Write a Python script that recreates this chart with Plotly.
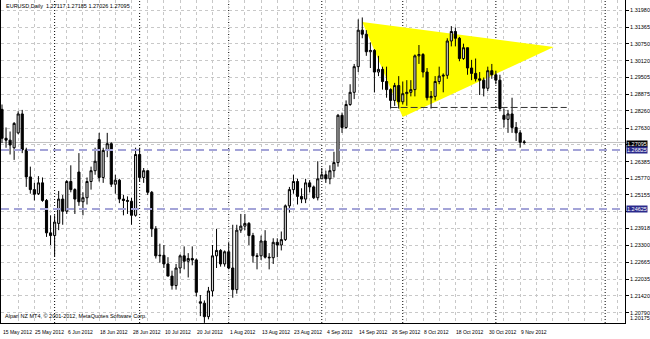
import plotly.graph_objects as go

# ---------------- data ----------------
dates = ["2012-05-15","2012-05-16","2012-05-17","2012-05-18","2012-05-21","2012-05-22","2012-05-23","2012-05-24","2012-05-25",
         "2012-05-28","2012-05-29","2012-05-30","2012-05-31","2012-06-01","2012-06-04","2012-06-05","2012-06-06","2012-06-07",
         "2012-06-08","2012-06-11","2012-06-12","2012-06-13","2012-06-14","2012-06-15","2012-06-18","2012-06-19","2012-06-20",
         "2012-06-21","2012-06-22","2012-06-25","2012-06-26","2012-06-27","2012-06-28","2012-06-29","2012-07-02","2012-07-03",
         "2012-07-04","2012-07-05","2012-07-06","2012-07-09","2012-07-10","2012-07-11","2012-07-12","2012-07-13","2012-07-16",
         "2012-07-17","2012-07-18","2012-07-19","2012-07-20","2012-07-23","2012-07-24","2012-07-25","2012-07-26","2012-07-27",
         "2012-07-30","2012-07-31","2012-08-01","2012-08-02","2012-08-03","2012-08-06","2012-08-07","2012-08-08","2012-08-09",
         "2012-08-10","2012-08-13","2012-08-14","2012-08-15","2012-08-16","2012-08-17","2012-08-20","2012-08-21","2012-08-22",
         "2012-08-23","2012-08-24","2012-08-27","2012-08-28","2012-08-29","2012-08-30","2012-08-31","2012-09-03","2012-09-04",
         "2012-09-05","2012-09-06","2012-09-07","2012-09-10","2012-09-11","2012-09-12","2012-09-13","2012-09-14","2012-09-17",
         "2012-09-18","2012-09-19","2012-09-20","2012-09-21","2012-09-24","2012-09-25","2012-09-26","2012-09-27","2012-09-28",
         "2012-10-01","2012-10-02","2012-10-03","2012-10-04","2012-10-05","2012-10-08","2012-10-09","2012-10-10","2012-10-11",
         "2012-10-12","2012-10-15","2012-10-16","2012-10-17","2012-10-18","2012-10-19","2012-10-22","2012-10-23","2012-10-24",
         "2012-10-25","2012-10-26","2012-10-29","2012-10-30","2012-10-31","2012-11-01","2012-11-02","2012-11-05","2012-11-06",
         "2012-11-07","2012-11-08","2012-11-09","2012-11-12"]

opens = [1.2832,1.2725,1.2718,1.2690,1.2745,1.2815,1.2682,1.2582,1.2535,
         1.2520,1.2560,1.2495,1.2375,1.2365,1.2410,1.2500,1.2455,1.2565,
         1.2535,1.2600,1.2490,1.2505,1.2565,1.2605,1.2720,1.2580,1.2680,
         1.2705,1.2555,1.2570,1.2500,1.2495,1.2492,1.2440,1.2665,1.2580,
         1.2605,1.2525,1.2390,1.2290,1.2292,1.2260,1.2215,1.2180,1.2245,
         1.2290,1.2270,1.2280,1.2275,1.2120,1.2115,1.2065,1.2160,1.2290,
         1.2310,1.2260,1.2305,1.2245,1.2165,1.2385,1.2400,1.2410,1.2365,
         1.2290,1.2290,1.2345,1.2285,1.2283,1.2340,1.2330,1.2350,1.2475,
         1.2535,1.2565,1.2510,1.2500,1.2560,1.2545,1.2505,1.2575,1.2590,
         1.2575,1.2605,1.2635,1.2810,1.2765,1.2850,1.2895,1.2990,1.3125,
         1.3110,1.3045,1.3050,1.2970,1.2980,1.2935,1.2905,1.2865,1.2920,
         1.2860,1.2890,1.2895,1.2905,1.3030,1.3035,1.2970,1.2875,1.2880,
         1.2935,1.2955,1.2958,1.3085,1.3120,1.3095,1.3020,1.3060,1.2985,
         1.2965,1.2945,1.2940,1.2910,1.2975,1.2960,1.2940,1.2810,1.2795,
         1.2815,1.2765,1.2745,1.27117]
highs = [1.2850,1.2765,1.2750,1.2785,1.2825,1.2830,1.2690,1.2620,1.2560,
         1.2585,1.2580,1.2500,1.2440,1.2440,1.2530,1.2515,1.2570,1.2625,
         1.2540,1.2670,1.2525,1.2580,1.2620,1.2690,1.2745,1.2690,1.2745,
         1.2710,1.2590,1.2575,1.2515,1.2510,1.2505,1.2690,1.2690,1.2615,
         1.2605,1.2530,1.2400,1.2335,1.2330,1.2285,1.2235,1.2260,1.2295,
         1.2325,1.2300,1.2325,1.2280,1.2145,1.2125,1.2175,1.2330,1.2390,
         1.2315,1.2310,1.2340,1.2405,1.2405,1.2445,1.2445,1.2415,1.2375,
         1.2300,1.2365,1.2385,1.2300,1.2355,1.2355,1.2380,1.2480,1.2545,
         1.2590,1.2575,1.2540,1.2575,1.2570,1.2550,1.2640,1.2615,1.2605,
         1.2625,1.2675,1.2815,1.2820,1.2865,1.2925,1.3000,1.3165,1.3172,
         1.3125,1.3080,1.3055,1.3030,1.2990,1.2990,1.2910,1.2930,1.2955,
         1.2935,1.2940,1.2940,1.3035,1.3070,1.3040,1.2985,1.2900,1.2955,
         1.2990,1.2965,1.3095,1.3140,1.3135,1.3100,1.3075,1.3060,1.3015,
         1.3020,1.2970,1.2950,1.2990,1.3000,1.2975,1.2960,1.2835,1.2830,
         1.2875,1.2785,1.2755,1.27185]
lows = [1.2707,1.2690,1.2665,1.2645,1.2740,1.2670,1.2545,1.2520,1.2495,
        1.2515,1.2490,1.2360,1.2330,1.2288,1.2385,1.2405,1.2445,1.2525,
        1.2445,1.2475,1.2440,1.2480,1.2535,1.2590,1.2565,1.2560,1.2655,
        1.2545,1.2520,1.2485,1.2440,1.2445,1.2405,1.2435,1.2565,1.2560,
        1.2515,1.2360,1.2280,1.2265,1.2245,1.2215,1.2165,1.2165,1.2225,
        1.2240,1.2210,1.2255,1.2140,1.2067,1.2042,1.2055,1.2140,1.2245,
        1.2250,1.2250,1.2240,1.2135,1.2150,1.2375,1.2385,1.2330,1.2265,
        1.2240,1.2275,1.2280,1.2240,1.2260,1.2285,1.2310,1.2345,1.2450,
        1.2520,1.2480,1.2485,1.2485,1.2525,1.2500,1.2495,1.2575,1.2560,
        1.2555,1.2580,1.2620,1.2745,1.2760,1.2845,1.2870,1.2970,1.3095,
        1.3030,1.2985,1.2895,1.2955,1.2905,1.2875,1.2835,1.2845,1.2835,
        1.2850,1.2845,1.2880,1.2880,1.3000,1.2950,1.2865,1.2835,1.2865,
        1.2925,1.2895,1.2945,1.3065,1.3065,1.3010,1.3015,1.2960,1.2940,
        1.2935,1.2885,1.2880,1.2900,1.2945,1.2925,1.2825,1.2765,1.2745,
        1.2745,1.2715,1.2690,1.27026]
closes = [1.2725,1.2718,1.2700,1.2780,1.2815,1.2682,1.2582,1.2535,1.2518,
          1.2560,1.2495,1.2375,1.2365,1.2415,1.2500,1.2455,1.2565,1.2535,
          1.2500,1.2490,1.2505,1.2565,1.2605,1.2640,1.2580,1.2680,1.2705,
          1.2555,1.2570,1.2500,1.2495,1.2492,1.2440,1.2665,1.2580,1.2605,
          1.2525,1.2390,1.2290,1.2292,1.2260,1.2215,1.2180,1.2245,1.2290,
          1.2270,1.2280,1.2275,1.2155,1.2115,1.2065,1.2160,1.2290,1.2310,
          1.2260,1.2305,1.2245,1.2165,1.2385,1.2400,1.2410,1.2365,1.2290,
          1.2288,1.2345,1.2285,1.2283,1.2340,1.2330,1.2350,1.2475,1.2535,
          1.2565,1.2510,1.2500,1.2560,1.2545,1.2505,1.2575,1.2590,1.2575,
          1.2605,1.2635,1.2810,1.2765,1.2850,1.2895,1.2990,1.3125,1.3110,
          1.3045,1.3050,1.2970,1.2980,1.2935,1.2905,1.2865,1.2920,1.2860,
          1.2890,1.2895,1.2905,1.3030,1.3035,1.2970,1.2875,1.2880,1.2935,
          1.2955,1.2958,1.3085,1.3120,1.3095,1.3020,1.3060,1.2985,1.2965,
          1.2945,1.2940,1.2910,1.2975,1.2960,1.2940,1.2835,1.2795,1.2815,
          1.2765,1.2745,1.2710,1.27095]

date_labels = ["15 May 2012","25 May 2012","6 Jun 2012","18 Jun 2012","28 Jun 2012","10 Jul 2012","20 Jul 2012",
               "1 Aug 2012","13 Aug 2012","23 Aug 2012","4 Sep 2012","14 Sep 2012","26 Sep 2012","8 Oct 2012",
               "18 Oct 2012","30 Oct 2012","9 Nov 2012"]
date_label_bars = [0, 8, 16, 24, 32, 40, 48, 56, 64, 72, 80, 88, 96, 104, 112, 120, 128]

price_ticks = [1.31980,1.31365,1.30750,1.30120,1.29505,1.28875,1.28260,1.27630,1.27010,1.26385,
               1.25770,1.25155,1.24535,1.23918,1.23300,1.22665,1.22035,1.21420,1.20790]
# labels under the price boxes are hidden, as in the reference
price_tick_text = ["1.31980","1.31365","1.30750","1.30120","1.29505","1.28875","1.28260","1.27630","","1.26385",
                   "1.25770","1.25155","","1.23918","1.23300","1.22665","1.22035","1.21420","1.20790"]
bottom_price_label = "1.20175"

# triangle object (bar position, price)
tri_bars = [89.0, 136.3, 99.0]
tri_prices = [1.3155, 1.3063, 1.2804]

# horizontal lines
blue_levels = [1.2682, 1.2463]
blue_level_text = ["1.26825", "1.24625"]
bid_price = 1.27095
bid_text = "1.27095"
neck_level = 1.2839
neck_bars = [96.0, 139.5]
future_separator_bar = 149.0

header_text = "EURUSD,Daily  1.27117 1.27185 1.27026 1.27095"
copyright_text = "Alpari NZ MT4, © 2001-2012, MetaQuotes Software Corp."

# ---------------- figure ----------------
bars = list(range(len(dates)))
X_MIN, X_MAX = -0.245, 153.9
Y_MIN, Y_MAX = 1.20415, 1.32366
FONT = "Liberation Sans"
FS = 5

fig = go.Figure()

shapes = []
# yellow triangle: above the grid, below the candles
tri_path = "M " + " L ".join(f"{b},{p}" for b, p in zip(tri_bars, tri_prices)) + " Z"
shapes.append(dict(type="path", path=tri_path, xref="x", yref="y", layer="between",
                   fillcolor="#ffff00", line=dict(width=0)))
# period separators (first bar of each month) + the future one
sep_bars = [i for i in range(1, len(dates)) if dates[i][5:7] != dates[i-1][5:7]] + [future_separator_bar]
for sb in sep_bars:
    shapes.append(dict(type="line", x0=sb, x1=sb, y0=0, y1=1, xref="x", yref="paper", layer="between",
                       line=dict(color="#000000", width=1, dash="1px,2px")))
# bid line
shapes.append(dict(type="line", x0=0, x1=1, y0=bid_price, y1=bid_price, xref="paper", yref="y",
                   layer="between", line=dict(color="#c0c0c0", width=1)))
# neckline
shapes.append(dict(type="line", x0=neck_bars[0], x1=neck_bars[1], y0=neck_level, y1=neck_level,
                   xref="x", yref="y", layer="above", line=dict(color="#333333", width=1, dash="7px,3px")))
# blue horizontal levels
for lv in blue_levels:
    shapes.append(dict(type="line", x0=0, x1=1, y0=lv, y1=lv, xref="paper", yref="y", layer="above",
                       line=dict(color="#a4a4d8", width=2, dash="8px,5px")))

# candles
fig.add_trace(go.Candlestick(
    x=bars, open=opens, high=highs, low=lows, close=closes,
    increasing=dict(line=dict(color="#000000", width=1), fillcolor="#d4d4d4"),
    decreasing=dict(line=dict(color="#000000", width=1), fillcolor="#000000"),
    whiskerwidth=0, hoverinfo="skip", showlegend=False))

# annotations
anns = []
for b, t in zip(date_label_bars, date_labels):
    anns.append(dict(x=b, y=0, xref="x", yref="paper", text=t, showarrow=False,
                     xanchor="left", yanchor="top", xshift=-1, yshift=-4,
                     font=dict(family=FONT, size=FS, color="#000000")))
anns.append(dict(x=0, y=1, xref="paper", yref="paper", text=header_text, showarrow=False,
                 xanchor="left", yanchor="top", xshift=3, yshift=-1,
                 font=dict(family=FONT, size=5.5, color="#000000")))
anns.append(dict(x=0, y=0, xref="paper", yref="paper", text=copyright_text, showarrow=False,
                 xanchor="left", yanchor="bottom", xshift=2, yshift=2,
                 font=dict(family=FONT, size=5.5, color="#000000")))
anns.append(dict(x=1, y=0, xref="paper", yref="paper", text=bottom_price_label, showarrow=False,
                 xanchor="left", yanchor="bottom", xshift=3, yshift=0,
                 font=dict(family=FONT, size=5.5, color="#000000")))
anns.append(dict(x=1, y=bid_price, xref="paper", yref="y", text=bid_text, showarrow=False,
                 xanchor="left", yanchor="middle", xshift=1, yshift=-2, bgcolor="#000000", borderpad=0,
                 font=dict(family=FONT, size=5.5, color="#ffffff")))
for lv, t in zip(blue_levels, blue_level_text):
    anns.append(dict(x=1, y=lv, xref="paper", yref="y", text=t, showarrow=False,
                     xanchor="left", yanchor="middle", xshift=1, bgcolor="#2a2a8c", borderpad=0,
                     font=dict(family=FONT, size=5.5, color="#ffffff")))

fig.update_layout(
    width=650, height=339,
    margin=dict(l=0, r=21, t=0, b=16),
    paper_bgcolor="#ffffff", plot_bgcolor="#ffffff",
    showlegend=False, boxgap=0.25,
    annotations=anns, shapes=shapes,
    xaxis=dict(range=[X_MIN, X_MAX], rangeslider=dict(visible=False),
               tickvals=list(range(0, 154, 4)), showticklabels=False,
               showgrid=True, gridcolor="#c8c8c8", griddash="dot", gridwidth=1,
               showline=True, linecolor="#000000", linewidth=1, zeroline=False,
               ticks="", fixedrange=True),
    yaxis=dict(range=[Y_MIN, Y_MAX], side="right",
               tickvals=price_ticks, ticktext=price_tick_text,
               tickfont=dict(family=FONT, size=5.5, color="#000000"),
               ticks="outside", ticklen=3, tickcolor="#000000",
               showgrid=True, gridcolor="#c8c8c8", griddash="dot", gridwidth=1,
               showline=True, linecolor="#000000", linewidth=1, mirror=True, zeroline=False,
               fixedrange=True),
)

fig.write_html("out.html")
